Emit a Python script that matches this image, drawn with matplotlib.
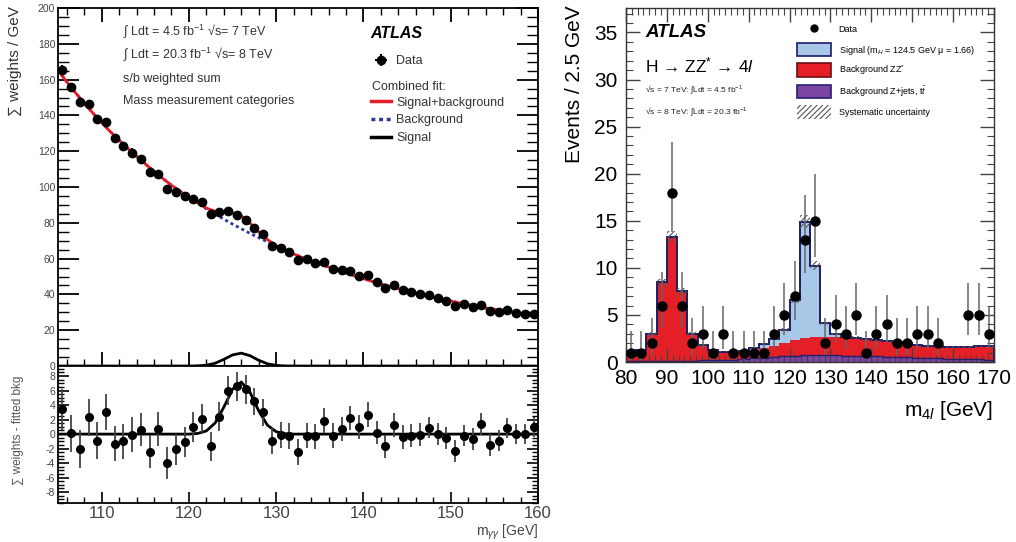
import matplotlib
matplotlib.use("Agg")
import matplotlib.pyplot as plt
import numpy as np
from matplotlib.ticker import MultipleLocator, AutoMinorLocator
from matplotlib.lines import Line2D
from matplotlib.patches import Patch

plt.rcParams["font.family"] = ["Liberation Sans", "DejaVu Sans"]
plt.rcParams["mathtext.fontset"] = "custom"
plt.rcParams["mathtext.rm"] = "Liberation Sans"
plt.rcParams["mathtext.it"] = "Liberation Sans:italic"
plt.rcParams["hatch.linewidth"] = 0.8
plt.rcParams["axes.unicode_minus"] = False

# ---- left: H -> gamma gamma, s/b weighted sum ----
myy = np.arange(105.5, 160, 1.0)
myy_sum = [165.4, 155.7, 147.7, 146.2, 137.8, 136.3, 127.2, 122.9, 119.2, 115.6,
           108.4, 107.4, 98.9, 97.0, 95.0, 93.5, 91.4, 84.7, 85.8, 86.6,
           84.5, 81.6, 77.3, 73.6, 67.2, 65.7, 63.5, 59.0, 59.6, 57.5,
           58.1, 54.2, 53.5, 53.3, 50.5, 50.8, 46.7, 43.4, 45.1, 42.3,
           41.2, 40.2, 39.8, 37.8, 36.3, 33.5, 34.6, 33.1, 34.1, 30.6,
           30.4, 31.5, 29.4, 28.9, 28.9]
myy_resid = [3.4, 0.1, -2.1, 2.3, -0.9, 3.0, -1.3, -1.0, -0.1, 0.6,
             -2.4, 0.7, -4.0, -2.1, -1.1, 1.0, 2.1, -1.7, 2.4, 6.0,
             6.6, 6.2, 4.5, 3.0, -1.0, -0.1, -0.2, -2.5, -0.2, -0.3,
             1.85, -0.2, 0.7, 2.2, 1.0, 2.7, 0.2, -1.7, 1.25, -0.4,
             -0.2, -0.1, 0.9, 0.0, -0.55, -2.3, -0.2, -0.7, 1.4, -1.5,
             -0.9, 0.8, 0.0, 0.0, 1.0]
myy_err = [2.8, 2.6, 2.6, 2.6, 2.6, 2.5, 2.4, 2.4, 2.4, 2.3,
           2.3, 2.3, 2.2, 2.1, 2.1, 2.1, 2.1, 2.0, 2.0, 2.0,
           2.0, 2.0, 1.9, 1.9, 1.8, 1.8, 1.8, 1.8, 1.7, 1.7,
           1.7, 1.7, 1.7, 1.7, 1.7, 1.7, 1.6, 1.6, 1.6, 1.6,
           1.6, 1.6, 1.5, 1.5, 1.5, 1.5, 1.5, 1.5, 1.5, 1.5,
           1.4, 1.4, 1.4, 1.4, 1.4]

fit_x = np.arange(105, 161, 1.0)
fit_bkg = [165.2, 158.8, 152.7, 146.8, 141.3, 136.0, 130.9, 126.2, 121.6, 117.2,
           112.9, 108.8, 104.8, 101.0, 97.6, 94.3, 91.0, 87.8, 84.9, 82.0,
           79.3, 76.7, 74.1, 71.7, 69.4, 67.0, 64.8, 62.6, 60.6, 58.8,
           57.0, 55.3, 53.6, 51.9, 50.3, 48.8, 47.3, 45.8, 44.5, 43.3,
           42.0, 40.8, 39.6, 38.4, 37.3, 36.3, 35.3, 34.3, 33.3, 32.4,
           31.7, 31.0, 30.2, 29.4, 28.6, 27.8]
fit_sig = [0, 0, 0, 0, 0, 0, 0, 0, 0, 0,
           0, 0, 0, 0, 0, 0, 0.09, 0.44, 1.53, 3.71,
           6.2, 7.19, 5.77, 3.2, 1.23, 0.33, 0.06, 0, 0, 0,
           0, 0, 0, 0, 0, 0, 0, 0, 0, 0,
           0, 0, 0, 0, 0, 0, 0, 0, 0, 0,
           0, 0, 0, 0, 0, 0]
fit_total = np.array(fit_bkg) + np.array(fit_sig)

# ---- right: H -> ZZ* -> 4l ----
m4l_edges = np.arange(80, 172.5, 2.5)
m4l = np.arange(81.25, 170, 2.5)
n_data = [1, 1, 2, 6, 18, 6, 2, 3, 1, 3, 1, 1, 1, 1, 3, 5, 7, 13, 15, 2,
          4, 3, 5, 1, 3, 4, 2, 2, 3, 3, 2, 0, 0, 5, 5, 3]
err_dn = [0.83, 0.83, 1.29, 2.38, 4.20, 2.38, 1.29, 1.63, 0.83, 1.63, 0.83, 0.83,
          0.83, 0.83, 1.63, 2.16, 2.58, 3.57, 3.83, 1.29, 1.91, 1.63, 2.16, 0.83,
          1.63, 1.91, 1.29, 1.29, 1.63, 1.63, 1.29, 0, 0, 2.16, 2.16, 1.63]
err_up = [2.30, 2.30, 2.64, 3.58, 5.32, 3.58, 2.64, 2.92, 2.30, 2.92, 2.30, 2.30,
          2.30, 2.30, 2.92, 3.38, 3.77, 4.71, 4.95, 2.64, 3.16, 2.92, 3.38, 2.30,
          2.92, 3.16, 2.64, 2.64, 2.92, 2.92, 2.64, 0, 0, 3.38, 3.38, 2.92]
bkg_zjets = [0.15, 0.15, 0.15, 0.15, 0.15, 0.15, 0.15, 0.18, 0.2, 0.22, 0.25, 0.3,
             0.38, 0.45, 0.55, 0.62, 0.68, 0.72, 0.72, 0.72, 0.7, 0.68, 0.65, 0.62,
             0.6, 0.57, 0.53, 0.5, 0.46, 0.42, 0.38, 0.35, 0.32, 0.3, 0.28, 0.25]
bkg_zz = [0.45, 1.1, 2.85, 8.3, 13.15, 7.4, 2.85, 1.62, 1.05, 0.85, 0.82, 0.85,
          0.92, 1.0, 1.2, 1.38, 1.62, 1.83, 1.93, 1.98, 2.0, 1.97, 1.95, 1.83,
          1.75, 1.68, 1.57, 1.5, 1.39, 1.33, 1.27, 1.25, 1.28, 1.3, 1.37, 1.4]
sig_h = [0, 0, 0, 0, 0, 0, 0, 0, 0, 0, 0.03, 0.05,
         0.15, 0.5, 0.7, 1.45, 4.3, 12.35, 7.6, 1.4, 0.3, 0.05, 0, 0,
         0, 0, 0, 0, 0, 0, 0, 0, 0, 0, 0, 0]
syst = [0.05, 0.08, 0.15, 0.4, 0.6, 0.35, 0.15, 0.1, 0.07, 0.06, 0.06, 0.06,
        0.07, 0.09, 0.12, 0.17, 0.3, 0.7, 0.45, 0.15, 0.12, 0.12, 0.12, 0.12,
        0.11, 0.11, 0.1, 0.1, 0.09, 0.09, 0.08, 0.08, 0.08, 0.08, 0.08, 0.08]

RED = "#e41f26"
NAVY = "#1c1c66"
BLUE_DOT = "#2a3a9c"

fig = plt.figure(figsize=(10.16, 5.42), dpi=100)

# ===== left top =====
ax1 = fig.add_axes([0.0571, 0.3247, 0.4724, 0.6605])
ax1.plot(fit_x, fit_bkg, color=BLUE_DOT, lw=2, ls=(0, (1.1, 1.1)), zorder=2)
ax1.plot(fit_x, fit_total, color=RED, lw=2, zorder=2.5)
ax1.plot(fit_x, fit_sig, color="black", lw=2, zorder=2)
ax1.errorbar(myy, myy_sum, yerr=myy_err, xerr=0.4, fmt="o", color="black",
             ms=6, elinewidth=1.5, capsize=0, zorder=3)
ax1.set_xlim(105, 160)
ax1.set_ylim(0, 200)
ax1.xaxis.set_major_locator(MultipleLocator(10))
ax1.xaxis.set_minor_locator(MultipleLocator(2))
ax1.yaxis.set_major_locator(MultipleLocator(20))
ax1.yaxis.set_minor_locator(MultipleLocator(5))
ax1.tick_params(which="both", direction="in", top=True, right=True,
                labelbottom=False, labelsize=7.5, labelcolor="#444", pad=2)
ax1.tick_params(axis="y", which="major", length=15, width=1.3)
ax1.tick_params(axis="y", which="minor", length=8, width=1)
ax1.tick_params(axis="x", which="major", length=10, width=1.3)
ax1.tick_params(axis="x", which="minor", length=5, width=1)
for s in ax1.spines.values():
    s.set_linewidth(1.3)

ax1.text(0.135, 0.936, "\u222b Ldt = 4.5 fb$^{-1}$ \u221as= 7 TeV", transform=ax1.transAxes,
         fontsize=9, color="#333", va="center")
ax1.text(0.135, 0.872, "\u222b Ldt = 20.3 fb$^{-1}$ \u221as= 8 TeV", transform=ax1.transAxes,
         fontsize=9, color="#333", va="center")
ax1.text(0.135, 0.802, "s/b weighted sum", transform=ax1.transAxes,
         fontsize=9, color="#333", va="center")
ax1.text(0.135, 0.740, "Mass measurement categories", transform=ax1.transAxes,
         fontsize=9, color="#333", va="center")
ax1.text(0.650, 0.930, "ATLAS", transform=ax1.transAxes, fontsize=11.5,
         fontweight="bold", style="italic", va="center")
ax1.text(0.654, 0.779, "Combined fit:", transform=ax1.transAxes,
         fontsize=9, color="#333", va="center")

h_data = ax1.errorbar([], [], yerr=[], xerr=[], fmt="o", color="black", ms=6,
                      elinewidth=1.5, capsize=0)
leg1 = ax1.legend([h_data], ["Data"], loc="upper left", bbox_to_anchor=(0.652, 0.868),
                  frameon=False, fontsize=9, handlelength=1.6, handletextpad=0.4,
                  borderpad=0, borderaxespad=0)
for t in leg1.get_texts():
    t.set_color("#333")
ax1.add_artist(leg1)
fit_handles = [Line2D([], [], color=RED, lw=2.5),
               Line2D([], [], color=BLUE_DOT, lw=2.5, ls=(0, (1.1, 1.1))),
               Line2D([], [], color="black", lw=2.5)]
leg2 = ax1.legend(fit_handles, ["Signal+background", "Background", "Signal"],
                  loc="upper left", bbox_to_anchor=(0.652, 0.752), frameon=False,
                  fontsize=9, handlelength=1.6, handletextpad=0.4, labelspacing=0.45,
                  borderpad=0, borderaxespad=0)
for t in leg2.get_texts():
    t.set_color("#333")

# ===== left bottom =====
ax2 = fig.add_axes([0.0571, 0.0720, 0.4724, 0.2528])
ax2.plot(fit_x, fit_sig, color="black", lw=2, zorder=2)
ax2.errorbar(myy, myy_resid, yerr=myy_err, fmt="o", color="black", ms=5.5,
             ecolor="#444", elinewidth=1.3, capsize=0, zorder=3)
ax2.set_xlim(105, 160)
ax2.set_ylim(-9.5, 9.4)
ax2.xaxis.set_major_locator(MultipleLocator(10))
ax2.xaxis.set_minor_locator(MultipleLocator(2))
ax2.yaxis.set_major_locator(MultipleLocator(2))
ax2.yaxis.set_minor_locator(MultipleLocator(0.5))
ax2.tick_params(which="both", direction="in", right=True, labelcolor="#444")
ax2.tick_params(axis="x", labelsize=12, pad=2)
ax2.tick_params(axis="y", labelsize=7.5, pad=2)
ax2.tick_params(which="major", length=8, width=1.2)
ax2.tick_params(which="minor", length=4, width=1)
for s in ax2.spines.values():
    s.set_linewidth(1.3)

fig.text(15 / 1016, 1 - 6 / 542, "\u2211 weights / GeV", rotation=90, ha="center",
         va="top", fontsize=11, color="#333")
fig.text(18 / 1016, 0.2066, "\u2211 weights - fitted bkg", rotation=90, ha="center",
         va="center", fontsize=8.5, color="#555")
fig.text(538 / 1016, 0.0185, "m$_{\\gamma\\gamma}$ [GeV]", ha="right", va="center",
         fontsize=10, color="#444")

# ===== right =====
ax3 = fig.add_axes([0.6161, 0.3321, 0.3622, 0.6531])
zj = np.array(bkg_zjets)
zz_top = zj + np.array(bkg_zz)
total = zz_top + np.array(sig_h)
syst = np.array(syst)
ax3.stairs(zj, m4l_edges, baseline=0, fill=True, color="#7c45a3", zorder=1)
ax3.stairs(zz_top, m4l_edges, baseline=zj, fill=True, color=RED, zorder=1)
ax3.stairs(total, m4l_edges, baseline=zz_top, fill=True, color="#a9c8e8", zorder=1)
ax3.stairs(zj, m4l_edges, color="#25206e", lw=1, zorder=2)
ax3.stairs(total, m4l_edges, color=NAVY, lw=1.4, zorder=2)
ax3.stairs(total + syst, m4l_edges, baseline=total - syst, fill=True,
           facecolor="none", edgecolor="#555", hatch="//////", lw=0, zorder=2.5)

n_arr = np.array(n_data)
keep = n_arr > 0
ax3.errorbar(m4l[keep], n_arr[keep],
             yerr=[np.array(err_dn)[keep], np.array(err_up)[keep]],
             fmt="o", color="black", ms=6.5, ecolor="#666", elinewidth=1.1,
             capsize=0, zorder=3)
ax3.set_xlim(80, 170)
ax3.set_ylim(0, 37.6)
ax3.xaxis.set_major_locator(MultipleLocator(10))
ax3.xaxis.set_minor_locator(AutoMinorLocator(7))
ax3.yaxis.set_major_locator(MultipleLocator(5))
ax3.yaxis.set_minor_locator(MultipleLocator(1))
ax3.tick_params(which="both", direction="in", top=True, right=True,
                labelsize=15, color="#444")
ax3.tick_params(axis="x", pad=5)
ax3.tick_params(axis="y", pad=6)
ax3.tick_params(which="major", length=10, width=1)
ax3.tick_params(which="minor", length=5, width=0.8)
for s in ax3.spines.values():
    s.set_linewidth(1)
    s.set_color("#333")

ax3.text(0.052, 0.932, "ATLAS", transform=ax3.transAxes, fontsize=13.5,
         fontweight="bold", style="italic", va="center")
ax3.text(0.052, 0.839, "H \u2192 ZZ$^{*}$ \u2192 4$\\mathit{l}$", transform=ax3.transAxes,
         fontsize=12.5, va="center")
ax3.text(0.052, 0.768, "\u221as = 7 TeV: \u222bLdt = 4.5 fb$^{-1}$", transform=ax3.transAxes,
         fontsize=6, va="center", color="#222")
ax3.text(0.052, 0.706, "\u221as = 8 TeV: \u222bLdt = 20.3 fb$^{-1}$", transform=ax3.transAxes,
         fontsize=6, va="center", color="#222")

leg_handles = [Line2D([], [], marker="o", color="black", ls="none", ms=5),
               Patch(facecolor="#a9c8e8", edgecolor=NAVY, lw=1.2),
               Patch(facecolor=RED, edgecolor="#6a1014", lw=1.2),
               Patch(facecolor="#7c45a3", edgecolor="#25206e", lw=1.2),
               Patch(facecolor="white", edgecolor="#555", hatch="//////", lw=0)]
leg_labels = ["Data", "Signal (m$_{H}$ = 124.5 GeV \u03bc = 1.66)", "Background ZZ$^{*}$",
              "Background Z+jets, t$\\bar{t}$", "Systematic uncertainty"]
ax3.legend(leg_handles, leg_labels, loc="upper left", bbox_to_anchor=(0.465, 0.958),
           frameon=False, fontsize=6.5, handlelength=3.8, handleheight=1.9,
           handletextpad=0.8, labelspacing=0.75, borderpad=0, borderaxespad=0)

fig.text(575 / 1016, 1 - 5 / 542, "Events / 2.5 GeV", rotation=90, ha="center",
         va="top", fontsize=15)
fig.text(993 / 1016, 1 - 410 / 542, "m$_{4\\mathit{l}}$ [GeV]", ha="right",
         va="center", fontsize=15)

fig.savefig("out.png", dpi=100)
